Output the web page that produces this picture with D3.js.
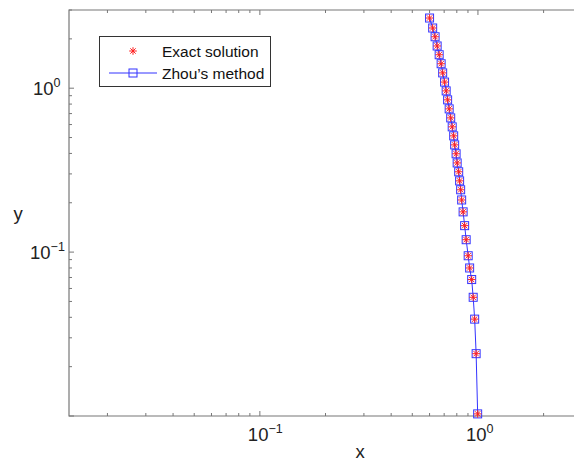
<!DOCTYPE html>
<html>
<head>
<meta charset="utf-8">
<script src="https://cdn.jsdelivr.net/npm/d3@7"></script>
<style>
  body { margin: 0; background: #fff; }
  text { font-family: "Liberation Sans", Arial, sans-serif; }
</style>
</head>
<body>
<svg width="574" height="463"></svg>
<script>
// values
const xs = [0.600, 0.620, 0.636, 0.650, 0.664, 0.678, 0.689, 0.703, 0.715, 0.726,
            0.738, 0.750, 0.762, 0.774, 0.782, 0.794, 0.803, 0.816, 0.824, 0.833,
            0.842, 0.855, 0.869, 0.883, 0.902, 0.916, 0.936, 0.951, 0.966, 0.981, 0.997];
const exactY = [2.68, 2.33, 2.06, 1.81, 1.60, 1.41, 1.24, 1.09, 0.963, 0.849,
                0.748, 0.659, 0.581, 0.512, 0.451, 0.398, 0.350, 0.309, 0.272, 0.240,
                0.208, 0.176, 0.145, 0.119, 0.095, 0.080, 0.068, 0.053, 0.039, 0.024, 0.0103];
const zhouY = exactY.slice();
const xMajor = [0.1, 1];
const xMajorExp = ["\u22121", "0"];
const yMajor = [1, 0.1];
const yMajorExp = ["0", "\u22121"];
const legendLabels = ["Exact solution", "Zhou\u2019s method"];

const svg = d3.select("svg");
const mLeft = 69, mTop = 10, mBottom = 416, mRight = 582;

const x = d3.scaleLog().domain([0.01333, 3]).range([mLeft, mRight]);
const y = d3.scaleLog().domain([0.01, 3]).range([mBottom, mTop]);

const axisCol = "#777";
const g = svg.append("g");

// minor + major ticks, inside the box
function tickLen(v) {
  const e = Math.log10(v);
  return Math.abs(e - Math.round(e)) < 1e-9 ? 5 : 3;
}
const xt = x.ticks();
const yt = y.ticks();

g.selectAll(".xtb").data(xt).enter().append("line")
  .attr("x1", d => x(d)).attr("x2", d => x(d))
  .attr("y1", mBottom).attr("y2", d => mBottom - tickLen(d))
  .attr("stroke", axisCol);
g.selectAll(".xtt").data(xt).enter().append("line")
  .attr("x1", d => x(d)).attr("x2", d => x(d))
  .attr("y1", mTop).attr("y2", d => mTop + tickLen(d))
  .attr("stroke", axisCol);
g.selectAll(".ytl").data(yt).enter().append("line")
  .attr("x1", mLeft).attr("x2", d => mLeft + tickLen(d))
  .attr("y1", d => y(d)).attr("y2", d => y(d))
  .attr("stroke", axisCol);

// box
g.append("path")
  .attr("d", `M${mRight},${mTop}H${mLeft}V${mBottom}H${mRight}`)
  .attr("fill", "none").attr("stroke", axisCol).attr("stroke-width", 1.2);

// tick labels with superscripts
xMajor.forEach((v, i) => {
  const t = svg.append("text").attr("x", x(v) - 12).attr("y", 441)
    .attr("font-size", 18.5).attr("fill", "#222").attr("text-anchor", "start");
  t.append("tspan").text("10");
  t.append("tspan").attr("dy", -8).attr("font-size", 12.5).text(xMajorExp[i]);
});
yMajor.forEach((v, i) => {
  const t = svg.append("text").attr("x", i === 0 ? 33 : 30).attr("y", y(v) + 7)
    .attr("font-size", 18.5).attr("fill", "#222");
  t.append("tspan").text("10");
  t.append("tspan").attr("dy", -8).attr("font-size", 12.5).text(yMajorExp[i]);
});

svg.append("text").attr("x", 360).attr("y", 458).attr("text-anchor", "middle")
  .attr("font-size", 18.5).attr("fill", "#222").text("x");
svg.append("text").attr("x", 18).attr("y", 220).attr("text-anchor", "middle")
  .attr("font-size", 18.5).attr("fill", "#222").text("y");

// data
const plot = svg.append("g");
const line = d3.line().x((d, i) => x(xs[i])).y(d => y(d));
plot.append("path").datum(zhouY)
  .attr("d", line).attr("fill", "none").attr("stroke", "#3333ff").attr("stroke-width", 1);

const sq = 8;
plot.selectAll(".sq").data(zhouY).enter().append("rect")
  .attr("x", (d, i) => x(xs[i]) - sq / 2).attr("y", d => y(d) - sq / 2)
  .attr("width", sq).attr("height", sq)
  .attr("fill", "none").attr("stroke", "#3333ff").attr("stroke-width", 1);

function star(cx, cy, r) {
  let p = "";
  for (let k = 0; k < 4; k++) {
    const a = k * Math.PI / 4;
    const dx = r * Math.cos(a), dy = r * Math.sin(a);
    p += `M${cx - dx},${cy - dy}L${cx + dx},${cy + dy}`;
  }
  return p;
}
plot.selectAll(".st").data(exactY).enter().append("path")
  .attr("d", (d, i) => star(x(xs[i]), y(d), 3.8))
  .attr("stroke", "#ff2020").attr("stroke-width", 1).attr("fill", "none");

// legend
const lg = svg.append("g");
lg.append("rect").attr("x", 99.5).attr("y", 36.5).attr("width", 171).attr("height", 50)
  .attr("fill", "#fff").attr("stroke", "#333").attr("stroke-width", 1);
lg.append("path").attr("d", star(133, 51, 3.8))
  .attr("stroke", "#ff2020").attr("fill", "none");
lg.append("line").attr("x1", 109).attr("x2", 157).attr("y1", 73).attr("y2", 73)
  .attr("stroke", "#3333ff");
lg.append("rect").attr("x", 133 - sq / 2).attr("y", 73 - sq / 2).attr("width", sq).attr("height", sq)
  .attr("fill", "none").attr("stroke", "#3333ff");
legendLabels.forEach((s, i) => {
  lg.append("text").attr("x", 162).attr("y", 57 + i * 22)
    .attr("font-size", 15.5).attr("fill", "#111").text(s);
});
</script>
</body>
</html>
